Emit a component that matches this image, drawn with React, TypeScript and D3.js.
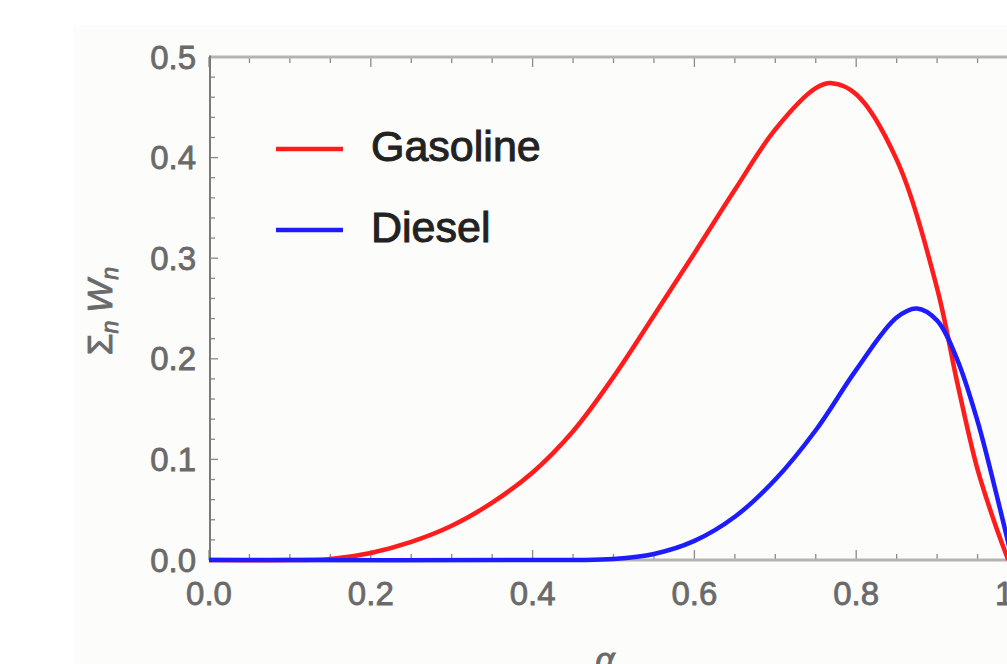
import * as d3 from 'd3';

// series values (alpha, sum W_n)
const gasolineX = [0, 0.1, 0.15, 0.2, 0.25, 0.3, 0.35, 0.4, 0.45, 0.5, 0.55, 0.6, 0.65, 0.7, 0.75, 0.77, 0.8, 0.85, 0.9, 0.925, 0.95, 0.975, 0.988];
const gasolineY = [0, 0, 0.001, 0.007, 0.018, 0.034, 0.057, 0.087, 0.128, 0.182, 0.243, 0.305, 0.368, 0.428, 0.469, 0.474, 0.463, 0.398, 0.27, 0.176, 0.09, 0.028, 0];

const dieselX = [0, 0.45, 0.5, 0.55, 0.6, 0.65, 0.7, 0.75, 0.8, 0.85, 0.875, 0.9, 0.925, 0.95, 0.975, 0.993];
const dieselY = [0, 0, 0.001, 0.006, 0.019, 0.043, 0.08, 0.129, 0.189, 0.241, 0.25, 0.238, 0.199, 0.138, 0.06, 0];

const xTicks = [0, 0.2, 0.4, 0.6, 0.8, 1.0];
const yTicks = [0, 0.1, 0.2, 0.3, 0.4, 0.5];
const legendNames = ['Gasoline', 'Diesel'];
const seriesColors = ['#ff1c1c', '#1c1cff'];

const FONT = '"Liberation Sans", Arial, Helvetica, sans-serif';

export default function App() {
  const width = 1007;
  const height = 664;

  // plot frame
  const left = 210;
  const right = 1018;
  const top = 57;
  const bottom = 560;

  const x = d3.scaleLinear().domain([0, 1]).range([left - 1, right]);
  const y = d3.scaleLinear().domain([0, 0.5]).range([bottom, top]);

  const line = d3
    .line<[number, number]>()
    .x(d => x(d[0]))
    .y(d => Math.min(bottom, y(d[1])))
    .curve(d3.curveCatmullRom.alpha(0.5));

  const gasoline = gasolineX.map((v, i) => [v, gasolineY[i]] as [number, number]);
  const diesel = dieselX.map((v, i) => [v, dieselY[i]] as [number, number]);

  // minor ticks
  const xMinor = d3.range(0, 21).map(i => i * 0.05);
  const yMinor = d3.range(0, 26).map(i => i * 0.02);

  const labelGray = '#6a6a6a';

  return (
    <svg
      width={width}
      height={height}
      style={{ position: 'absolute', left: 0, top: 0, background: '#fff' }}
    >
      <rect x={73} y={25} width={width - 73} height={height - 25} fill="#fcfcfa" />

      {/* minor + major ticks, bottom and top */}
      {xMinor.map((t, i) => {
        const major = i % 4 === 0;
        const len = major ? 10 : 6;
        return (
          <g key={'xt' + i} stroke="#8a8a8a" strokeWidth={1.3}>
            <line x1={x(t)} x2={x(t)} y1={bottom} y2={bottom - len} />
            <line x1={x(t)} x2={x(t)} y1={top} y2={top + len} />
          </g>
        );
      })}
      {yMinor.map((t, i) => {
        const major = i % 5 === 0;
        const len = major ? 8 : 5;
        return (
          <line key={'yt' + i} x1={left} x2={left + len} y1={y(t)} y2={y(t)} stroke="#8a8a8a" strokeWidth={1.3} />
        );
      })}

      {/* frame */}
      <line x1={left} x2={width} y1={top} y2={top} stroke="#b4b4b4" strokeWidth={3} />
      <line x1={left} x2={width} y1={bottom} y2={bottom} stroke="#b4b4b4" strokeWidth={3} />
      <line x1={left} x2={left} y1={top - 1.5} y2={bottom + 1.5} stroke="#7a7a7a" strokeWidth={2} />

      {/* tick labels */}
      {xTicks.map(t => (
        <text
          key={'xl' + t}
          x={x(t)}
          y={605}
          textAnchor="middle"
          fontFamily={FONT}
          fontSize={33}
          fill={labelGray}
          stroke={labelGray}
          strokeWidth={0.8}
        >
          {t.toFixed(1)}
        </text>
      ))}
      {yTicks.map(t => (
        <text
          key={'yl' + t}
          x={196}
          y={y(t) + 11.5}
          textAnchor="end"
          fontFamily={FONT}
          fontSize={33}
          fill={labelGray}
          stroke={labelGray}
          strokeWidth={0.8}
        >
          {t.toFixed(1)}
        </text>
      ))}

      {/* axis labels */}
      <text
        transform="translate(112, 311) rotate(-90)"
        textAnchor="middle"
        fontFamily={FONT}
        fontSize={35}
        fill={labelGray}
        stroke={labelGray}
        strokeWidth={0.8}
      >
        Σ
        <tspan fontSize={23} fontStyle="italic" dy={6}>n</tspan>
        <tspan dy={-6} fontStyle="italic" dx={8}>W</tspan>
        <tspan fontSize={23} fontStyle="italic" dy={6}>n</tspan>
      </text>
      <text
        x={605}
        y={671}
        textAnchor="middle"
        fontFamily={FONT}
        fontSize={34}
        fontStyle="italic"
        fill={labelGray}
        stroke={labelGray}
        strokeWidth={0.8}
      >
        α
      </text>

      {/* curves */}
      <path d={line(gasoline) ?? ''} fill="none" stroke={seriesColors[0]} strokeWidth={4.5} />
      <path d={line(diesel) ?? ''} fill="none" stroke={seriesColors[1]} strokeWidth={4.5} />

      {/* legend */}
      {legendNames.map((name, i) => {
        const ly = 149 + i * 81;
        return (
          <g key={name}>
            <line x1={276} x2={343} y1={ly} y2={ly} stroke={seriesColors[i]} strokeWidth={4.5} />
            <text
              x={371}
              y={ly + 12}
              fontFamily={FONT}
              fontSize={43}
              fill="#222"
              stroke="#222"
              strokeWidth={1}
            >
              {name}
            </text>
          </g>
        );
      })}
    </svg>
  );
}
